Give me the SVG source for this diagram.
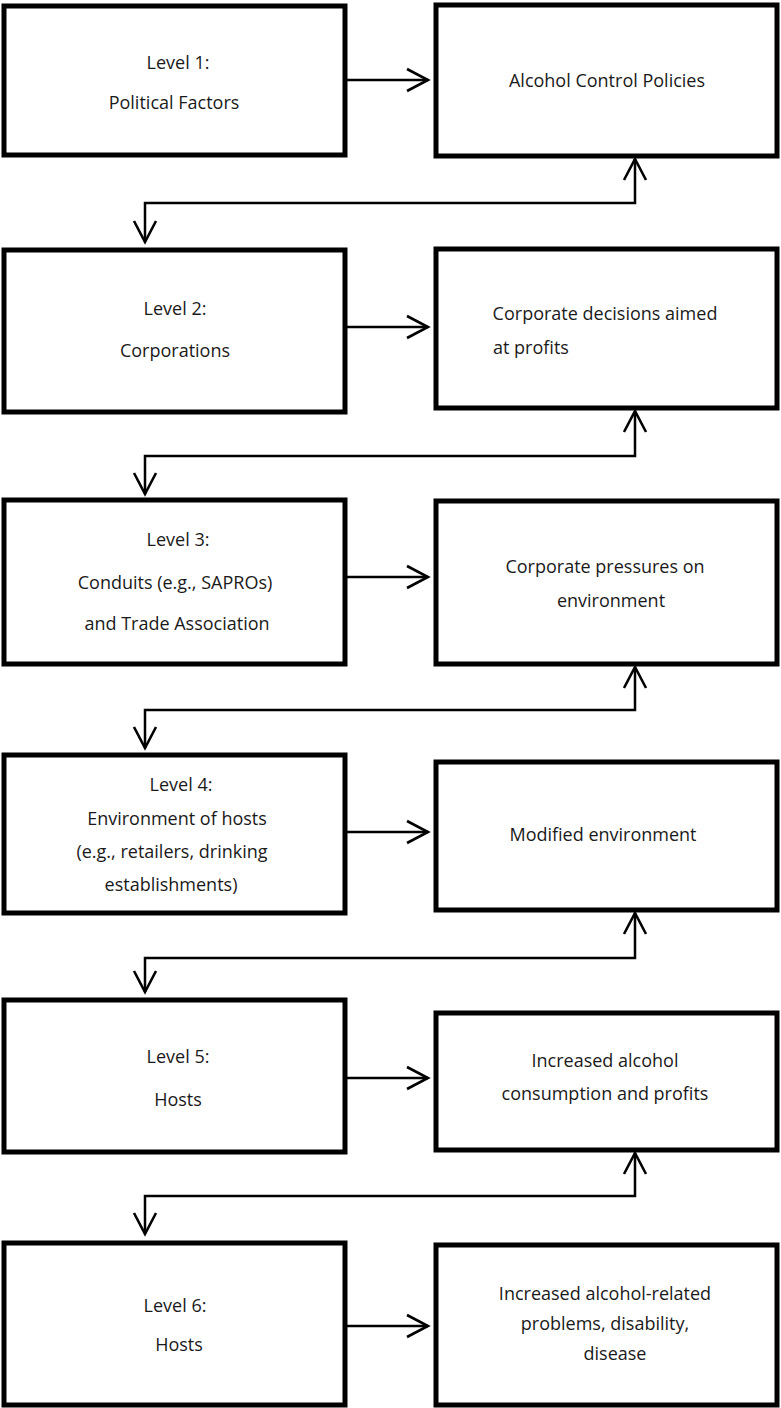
<svg xmlns="http://www.w3.org/2000/svg" width="781" height="1408" viewBox="0 0 781 1408">
<defs>
<marker id="ah" markerUnits="userSpaceOnUse" markerWidth="30" markerHeight="30" viewBox="-25 -15 30 30" refX="0" refY="0" orient="auto-start-reverse">
<path d="M-21,-11 L0,0 L-21,11" fill="none" stroke="#000" stroke-width="2.6" stroke-linejoin="miter"/>
</marker>
<style>
.box{fill:#fff;stroke:#000;stroke-width:5}
.t{font-family:"Open Sans","Noto Sans",sans-serif;font-size:18px;fill:#1a1a1a;text-anchor:middle}
.s{text-anchor:start}
.c{fill:none;stroke:#000;stroke-width:2.5}
</style>
</defs>
<rect width="781" height="1408" fill="#fff"/>
<g id="connectors">
<path class="c" d="M347,80 H428" marker-end="url(#ah)"/>
<path class="c" d="M347,327 H428" marker-end="url(#ah)"/>
<path class="c" d="M347,577 H428" marker-end="url(#ah)"/>
<path class="c" d="M347,832 H428" marker-end="url(#ah)"/>
<path class="c" d="M347,1078 H428" marker-end="url(#ah)"/>
<path class="c" d="M347,1326 H428" marker-end="url(#ah)"/>
<path class="c" d="M145,242 V203 H635 V159" marker-start="url(#ah)" marker-end="url(#ah)"/>
<path class="c" d="M145,494 V456 H635 V411" marker-start="url(#ah)" marker-end="url(#ah)"/>
<path class="c" d="M145,748 V710 H635 V667" marker-start="url(#ah)" marker-end="url(#ah)"/>
<path class="c" d="M145,992 V958 H635 V913" marker-start="url(#ah)" marker-end="url(#ah)"/>
<path class="c" d="M145,1234 V1196 H635 V1153" marker-start="url(#ah)" marker-end="url(#ah)"/>
</g>
<g id="level1">
<rect class="box" x="4" y="6" width="341" height="149"/>
<text class="t" x="178" y="69">Level 1:</text>
<text class="t" x="174" y="109">Political Factors</text>
</g>
<g id="policies">
<rect class="box" x="436" y="5" width="341" height="151"/>
<text class="t" x="607" y="87">Alcohol Control Policies</text>
</g>
<g id="level2">
<rect class="box" x="4" y="250" width="341" height="162"/>
<text class="t" x="175" y="315">Level 2:</text>
<text class="t" x="175" y="357">Corporations</text>
</g>
<g id="decisions">
<rect class="box" x="436" y="249" width="341" height="159"/>
<text class="t" x="605" y="320">Corporate decisions aimed</text>
<text class="t s" x="493" y="354">at profits</text>
</g>
<g id="level3">
<rect class="box" x="4" y="500" width="341" height="164"/>
<text class="t" x="178" y="546">Level 3:</text>
<text class="t" x="175" y="589">Conduits (e.g., SAPROs)</text>
<text class="t" x="177" y="630">and Trade Association</text>
</g>
<g id="pressures">
<rect class="box" x="436" y="501" width="341" height="163"/>
<text class="t" x="605" y="573">Corporate pressures on</text>
<text class="t" x="611" y="607">environment</text>
</g>
<g id="level4">
<rect class="box" x="4" y="755" width="341" height="158"/>
<text class="t" x="181" y="791">Level 4:</text>
<text class="t" x="177" y="825">Environment of hosts</text>
<text class="t" x="172" y="858">(e.g., retailers, drinking</text>
<text class="t" x="171" y="891">establishments)</text>
</g>
<g id="modified">
<rect class="box" x="436" y="762" width="341" height="148"/>
<text class="t" x="603" y="841">Modified environment</text>
</g>
<g id="level5">
<rect class="box" x="4" y="1000" width="341" height="152"/>
<text class="t" x="178" y="1063">Level 5:</text>
<text class="t" x="178" y="1106">Hosts</text>
</g>
<g id="consumption">
<rect class="box" x="436" y="1013" width="341" height="137"/>
<text class="t" x="605" y="1067">Increased alcohol</text>
<text class="t" x="605" y="1100">consumption and profits</text>
</g>
<g id="level6">
<rect class="box" x="4" y="1243" width="341" height="162"/>
<text class="t" x="175" y="1312">Level 6:</text>
<text class="t" x="179" y="1351">Hosts</text>
</g>
<g id="problems">
<rect class="box" x="436" y="1245" width="341" height="160"/>
<text class="t" x="605" y="1300">Increased alcohol-related</text>
<text class="t" x="605" y="1330">problems, disability,</text>
<text class="t" x="615" y="1360">disease</text>
</g>
</svg>
